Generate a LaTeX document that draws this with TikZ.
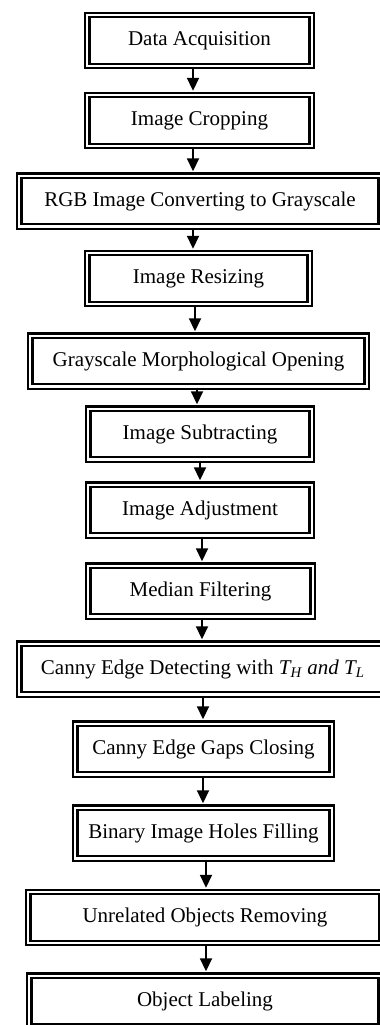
\documentclass[tikz,border=0pt]{standalone}
\usepackage{fontspec}
\setmainfont{Liberation Serif}
\usetikzlibrary{arrows.meta}
\begin{document}
\begin{tikzpicture}[x=1pt,y=-1pt,
    khoi/.style={draw,double,line width=1.1pt,double distance=1.1pt,
        minimum height=25.4pt,inner sep=1pt,font=\fontsize{10.5}{12}\selectfont},
    muiten/.style={->,line width=0.9pt,shorten >=1.6pt},
    >={Triangle[width=6pt,length=6.5pt]}]
    \useasboundingbox (0,0) rectangle (190,512.5);
    % cac buoc
    \node[khoi,minimum width=112.2pt] at (99.75,20.25) (b1) {Data Acquisition};
    \node[khoi,minimum width=112.2pt] at (99.75,60.25) (b2) {Image Cropping};
    \node[khoi,minimum width=180.7pt] at (100,100.5) (b3) {RGB Image Converting to Grayscale};
    \node[khoi,minimum width=111.2pt] at (99.25,139.25) (b4) {Image Resizing};
    \node[khoi,minimum width=168.2pt] at (99.25,180.5) (b5) {Grayscale Morphological Opening};
    \node[khoi,minimum width=111.7pt] at (100,217) (b6) {Image Subtracting};
    \node[khoi,minimum width=111.7pt] at (100,255) (b7) {Image Adjustment};
    \node[khoi,minimum width=112.2pt] at (100.25,295.5) (b8) {Median Filtering};
    \node[khoi,minimum width=183.7pt] at (101.5,334.5) (b9)
        {Canny Edge Detecting with \textit{T\textsubscript{H} and T\textsubscript{L}}};
    \node[khoi,minimum width=128.2pt] at (101.75,374.5) (b10) {Canny Edge Gaps Closing};
    \node[khoi,minimum width=128.2pt] at (101.75,416.5) (b11) {Binary Image Holes Filling};
    \node[khoi,minimum width=176.7pt] at (102.5,458.75) (b12) {Unrelated Objects Removing};
    \node[khoi,minimum width=175.7pt] at (102.5,500.5) (b13) {Object Labeling};
    % mui ten
    \foreach \a/\b/\s in {b1/b2/-3.25pt,b2/b3/-3.25pt,b3/b4/-3.5pt,b4/b5/-1.75pt,
        b5/b6/-0.75pt,b6/b7/0pt,b7/b8/1pt,b8/b9/0.75pt,b9/b10/0pt,
        b10/b11/-0.25pt,b11/b12/1.25pt,b12/b13/0.5pt}
        \draw[muiten] ([xshift=\s]\a.south) coordinate (t) -- (t |- \b.north);
\end{tikzpicture}
\end{document}
